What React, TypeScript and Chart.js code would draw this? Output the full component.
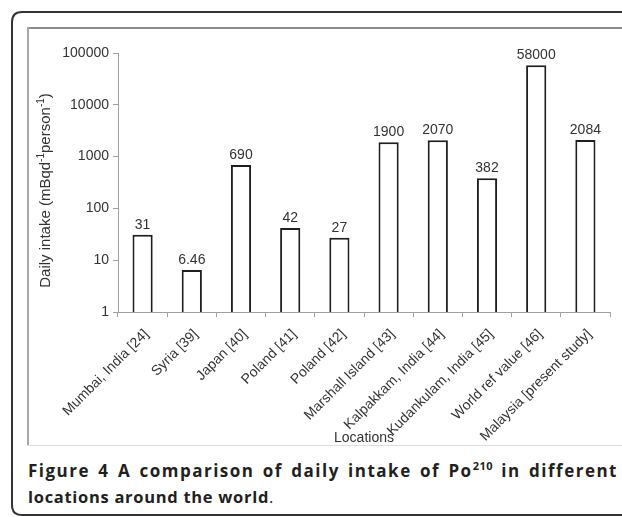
import React, { useEffect, useRef } from 'react';
import { Chart, registerables } from 'chart.js';

Chart.register(...registerables);

const categories = [
  'Mumbai, India [24]',
  'Syria [39]',
  'Japan [40]',
  'Poland [41]',
  'Poland [42]',
  'Marshall Island [43]',
  'Kalpakkam, India [44]',
  'Kudankulam, India [45]',
  'World ref value [46]',
  'Malaysia [present study]',
];
const intake = [31, 6.46, 690, 42, 27, 1900, 2070, 382, 58000, 2084];
const valueLabels = ['31', '6.46', '690', '42', '27', '1900', '2070', '382', '58000', '2084'];
const yTicks = [1, 10, 100, 1000, 10000, 100000];
const yTitleParts: [string, boolean][] = [
  ['Daily intake (mBqd', false],
  ['-1', true],
  ['person', false],
  ['-1', true],
  [')', false],
];
const xTitle = 'Locations';

const FONT = '"Liberation Sans", Arial, sans-serif';
const TEXT = '#333333';

const textPlugin = {
  id: 'customText',
  afterDraw(chart: any) {
    const ctx = chart.ctx;
    const area = chart.chartArea;
    const xs = chart.scales.x;
    const meta = chart.getDatasetMeta(0);
    ctx.save();
    ctx.fillStyle = TEXT;

    // value labels above bars
    ctx.font = `14px ${FONT}`;
    ctx.textAlign = 'center';
    ctx.textBaseline = 'alphabetic';
    meta.data.forEach((bar: any, i: number) => {
      ctx.fillText(valueLabels[i], bar.x, bar.y - 6);
    });

    // rotated category labels
    ctx.font = `14px ${FONT}`;
    ctx.textAlign = 'right';
    ctx.textBaseline = 'middle';
    categories.forEach((label, i) => {
      const x = xs.getPixelForTick(i);
      ctx.save();
      ctx.translate(x + 4, area.bottom + 20);
      ctx.rotate(-Math.PI / 4);
      ctx.fillText(label, 0, 0);
      ctx.restore();
    });

    // x axis title
    ctx.textAlign = 'center';
    ctx.textBaseline = 'alphabetic';
    ctx.font = `14px ${FONT}`;
    ctx.fillText(xTitle, (area.left + area.right) / 2, area.bottom + 130);

    // y axis title with superscripts
    const normal = `15px ${FONT}`;
    const sup = `10px ${FONT}`;
    let total = 0;
    yTitleParts.forEach(([t, s]) => {
      ctx.font = s ? sup : normal;
      total += ctx.measureText(t).width;
    });
    ctx.save();
    ctx.translate(21, (area.top + area.bottom) / 2 + 8);
    ctx.rotate(-Math.PI / 2);
    ctx.textAlign = 'left';
    let pos = -total / 2;
    yTitleParts.forEach(([t, s]) => {
      ctx.font = s ? sup : normal;
      ctx.fillText(t, pos, s ? -6 : 0);
      pos += ctx.measureText(t).width;
    });
    ctx.restore();

    ctx.restore();
  },
};

export default function App() {
  const canvasRef = useRef<HTMLCanvasElement>(null);

  useEffect(() => {
    const canvas = canvasRef.current;
    if (!canvas) return;
    const chart = new Chart(canvas, {
      type: 'bar',
      data: {
        labels: categories,
        datasets: [
          {
            data: intake,
            backgroundColor: '#ffffff',
            borderColor: '#1e1e1e',
            borderWidth: 2,
            categoryPercentage: 1,
            barPercentage: 0.41,
          },
        ],
      },
      options: {
        animation: false,
        responsive: false,
        maintainAspectRatio: false,
        layout: { padding: { top: 24, right: 12, left: 0, bottom: 0 } },
        plugins: {
          legend: { display: false },
          tooltip: { enabled: false },
          title: { display: false },
        },
        scales: {
          x: {
            type: 'category',
            grid: {
              display: true,
              drawOnChartArea: false,
              drawTicks: true,
              tickLength: 5,
              color: '#a0a0a0',
              offset: true,
            },
            border: { display: true, color: '#a0a0a0', width: 1 },
            ticks: { display: false, autoSkip: false },
            afterFit(scale: any) {
              scale.height = 133;
            },
          },
          y: {
            type: 'logarithmic',
            min: 1,
            max: 100000,
            grid: {
              display: true,
              drawOnChartArea: false,
              drawTicks: true,
              tickLength: 5,
              color: '#a0a0a0',
            },
            border: { display: true, color: '#a0a0a0', width: 1 },
            ticks: {
              color: TEXT,
              font: { family: FONT, size: 14 },
              padding: 4,
              callback: (v: any) => String(v),
            },
            afterBuildTicks(scale: any) {
              scale.ticks = yTicks.map((v) => ({ value: v, major: true }));
            },
            afterFit(scale: any) {
              scale.width = 89;
            },
          },
        },
      },
      plugins: [textPlugin],
    });
    return () => chart.destroy();
  }, []);

  return (
    <div
      style={{
        position: 'absolute',
        left: 0,
        top: 0,
        width: 622,
        height: 517,
        overflow: 'hidden',
        background: '#ffffff',
      }}
    >
      <svg
        width={622}
        height={517}
        style={{ position: 'absolute', left: 0, top: 0, display: 'block' }}
      >
        <path
          d="M 640 12 L 22 12 Q 12 12 12 22 L 12 505 Q 12 515 22 515 L 640 515"
          fill="none"
          stroke="#333333"
          strokeWidth={2}
        />
        <line x1={27} y1={28} x2={640} y2={28} stroke="#8c8c8c" strokeWidth={2} />
        <line x1={28} y1={27} x2={28} y2={445} stroke="#a8a8a8" strokeWidth={2} />
        <line x1={27} y1={445.5} x2={640} y2={445.5} stroke="#dcdcdc" strokeWidth={1} />
      </svg>
      <div style={{ position: 'absolute', left: 29, top: 29, width: 593, height: 416 }}>
        <canvas ref={canvasRef} width={593} height={416} style={{ display: 'block', width: 593, height: 416 }} />
      </div>
      <div
        style={{
          position: 'absolute',
          left: 28,
          top: 458,
          width: 590,
          fontFamily: '"Open Sans", "Noto Sans", sans-serif',
          lineHeight: '26px',
          color: '#231f20',
        }}
      >
        <div
          style={{
            textAlign: 'justify',
            textAlignLast: 'justify',
            whiteSpace: 'nowrap',
            fontWeight: 700,
            fontSize: 17,
            letterSpacing: 1.5,
          }}
        >
          Figure 4 A comparison of daily intake of Po<sup style={{ fontSize: 11, lineHeight: 0, letterSpacing: 0.5 }}>210</sup> in different
        </div>
        <div style={{ fontSize: 16.5, letterSpacing: 0.7 }}>
          <span style={{ fontWeight: 700 }}>locations around the world</span>.
        </div>
      </div>
    </div>
  );
}
